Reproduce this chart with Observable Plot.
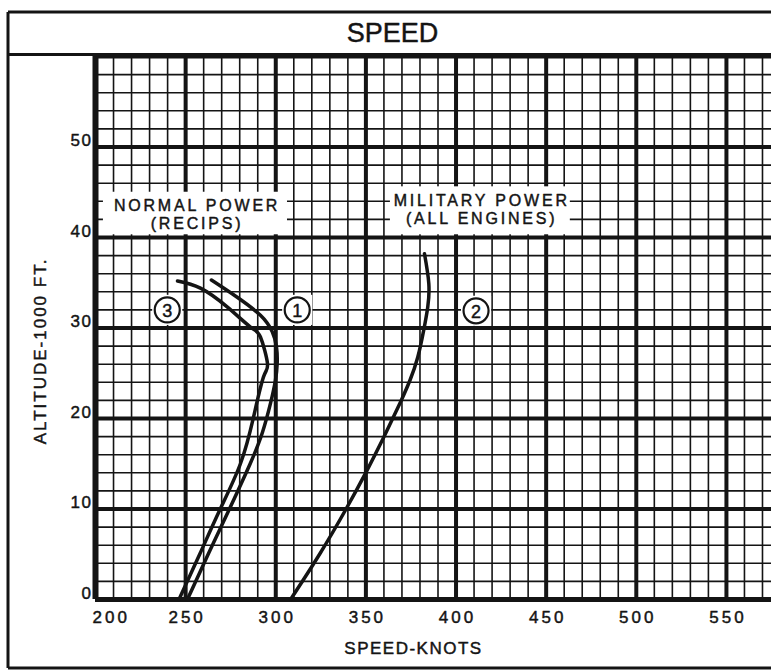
<!DOCTYPE html>
<html>
<head>
<meta charset="utf-8">
<script src="https://cdn.jsdelivr.net/npm/d3@7"></script>
<script src="https://cdn.jsdelivr.net/npm/@observablehq/plot@0.6"></script>
<style>
  html, body { margin: 0; padding: 0; background: #fff; }
  #chart svg { display: block; }
</style>
</head>
<body>
<div id="chart"></div>
<script>
// ---- data ----
const speedTicks = [200, 250, 300, 350, 400, 450, 500, 550];
const altitudeTicks = [0, 10, 20, 30, 40, 50];

// Curve 1 – normal power (recips)
const altitude1 = [0, 5, 10, 15, 18.4, 21.7, 24.2, 26.1, 27.9, 29.6, 31.4, 33.4, 35.3];
const speed1    = [251.0, 262.5, 274.3, 285.8, 292.5, 297.1, 299.8, 300.8, 300.4, 298.0, 291.5, 278.6, 264.3];

// Curve 3 – normal power (recips)
const altitude3 = [0, 5, 10, 15, 20.1, 24.6, 26.1, 29.0, 30.1, 32.3, 34.4, 35.2];
const speed3    = [246.3, 257.8, 269.2, 280.4, 287.6, 293.2, 295.4, 291.5, 286.0, 273.2, 258.2, 245.5];

// Curve 2 – military power (all engines)
const altitude2 = [0, 5, 10, 14.3, 17.2, 19.8, 22.0, 24.2, 26.8, 29.8, 32.3, 34.9, 38.2];
const speed2    = [308.2, 324.3, 339.0, 350.7, 358.1, 364.4, 369.6, 374.4, 378.8, 382.1, 384.3, 384.9, 382.5];

// curve number labels (speed, altitude)
const curveLabels = ["3", "1", "2"];
const curveLabelSpeed = [239.8, 311.9, 411.1];
const curveLabelAlt = [32.0, 32.0, 31.9];

// annotation boxes
const noteLines = [["NORMAL POWER", "(RECIPS)"], ["MILITARY POWER", "(ALL ENGINES)"]];
const noteSpeed = [255.5, 413.4];
const noteBox = [
  {x1: 204.4, x2: 306.5, y1: 40.3, y2: 45.0},
  {x1: 363.6, x2: 463.4, y1: 40.3, y2: 45.6}
];

const xTitle = "SPEED-KNOTS";
const yTitle = "ALTITUDE-1000 FT.";
const chartTitle = "SPEED";

// ---- build ----
const toPts = (xs, ys) => xs.map((x, i) => ({x, y: ys[i]}));
const font = "'Liberation Sans', Arial, sans-serif";
const ink = "#141414";

const minorX = d3.range(210, 576, 10).filter(v => v % 50 !== 0);
const majorX = d3.range(250, 576, 50);
const minorY = d3.range(2, 60, 2).filter(v => v % 10 !== 0);
const majorY = d3.range(10, 60, 10);

const labels = curveLabels.map((t, i) => ({t, x: curveLabelSpeed[i], y: curveLabelAlt[i]}));
const notes = noteLines.map((l, i) => ({
  line1: l[0], line2: l[1], x: noteSpeed[i], ...noteBox[i]
}));

const txt = {fill: ink, stroke: ink, strokeWidth: 0.45};

const chart = Plot.plot({
  width: 771,
  height: 671,
  marginLeft: 95,
  marginRight: 0,
  marginTop: 56,
  marginBottom: 72,
  style: {background: "#fff", fontFamily: font, color: ink},
  x: {domain: [200, 575], axis: null},
  y: {domain: [0, 60], axis: null},
  marks: [
    // grid
    Plot.ruleX(minorX, {stroke: ink, strokeWidth: 1.6}),
    Plot.ruleY(minorY, {stroke: ink, strokeWidth: 1.6}),
    Plot.ruleX(majorX, {stroke: ink, strokeWidth: 4}),
    Plot.ruleY(majorY, {stroke: ink, strokeWidth: 4}),
    Plot.ruleY([60], {stroke: ink, strokeWidth: 4}),
    Plot.ruleX([200], {stroke: ink, strokeWidth: 6}),
    Plot.ruleY([0], {stroke: ink, strokeWidth: 5}),

    // annotation boxes
    Plot.rect(notes, {x1: "x1", x2: "x2", y1: "y1", y2: "y2", fill: "#fff"}),
    Plot.text(notes, {x: "x", y: "y2", text: "line1", dy: 14, dx: 1.5, fontSize: 16, ...txt}),
    Plot.text(notes, {x: "x", y: "y2", text: "line2", dy: 32, dx: 1.5, fontSize: 16, ...txt}),

    // curves
    Plot.line(toPts(speed1, altitude1), {x: "x", y: "y", curve: "natural", stroke: ink, strokeWidth: 3.5}),
    Plot.line(toPts(speed3, altitude3), {x: "x", y: "y", curve: "natural", stroke: ink, strokeWidth: 3.5}),
    Plot.line(toPts(speed2, altitude2), {x: "x", y: "y", curve: "natural", stroke: ink, strokeWidth: 3.5}),

    // circled labels
    Plot.dot(labels, {x: "x", y: "y", symbol: "square", r: 17, fill: "#fff", stroke: null}),
    Plot.dot(labels, {x: "x", y: "y", r: 12.5, fill: "#fff", stroke: ink, strokeWidth: 2.2}),
    Plot.text(labels, {x: "x", y: "y", text: "t", fontSize: 18, dy: 1, ...txt}),

    // tick labels
    Plot.text(speedTicks.filter(d => d !== 200), {x: d => d, y: () => 0, text: d => String(d), dy: 18, dx: 1.5, fontSize: 17, ...txt}),
    Plot.text(speedTicks.filter(d => d === 200), {x: d => d, y: () => 0, text: d => String(d), dy: 18, dx: -3, textAnchor: "start", fontSize: 17, ...txt}),
    Plot.text(altitudeTicks, {x: () => 200, y: d => d, text: d => String(d), dx: -3, dy: -6, textAnchor: "end", fontSize: 17, ...txt}),

    // axis titles & chart title
    Plot.text([xTitle], {frameAnchor: "bottom", lineAnchor: "middle", dx: -20, dy: 49, fontSize: 17, ...txt}),
    Plot.text([yTitle], {frameAnchor: "left", textAnchor: "middle", lineAnchor: "middle", rotate: -90, dx: -55, dy: 23, fontSize: 17, ...txt}),
    Plot.text([chartTitle], {frameAnchor: "top", lineAnchor: "middle", dx: -41, dy: -23, fontSize: 27, ...txt})
  ]
});

// letter spacing of the hand-lettered texts
const spacing = new Map();
noteLines.flat().forEach(s => spacing.set(s, "2.8px"));
speedTicks.forEach(s => spacing.set(String(s), "3px"));
altitudeTicks.forEach(s => spacing.set(String(s), "1.5px"));
spacing.set(xTitle, "1.5px");
spacing.set(yTitle, "2px");
const svg = d3.select(chart);
svg.selectAll("text").each(function () {
  const s = spacing.get(this.textContent);
  if (s) this.style.letterSpacing = s;
});

// page frame (decorative border of the original sheet)
const g = svg.append("g").attr("fill", "none").attr("stroke", ink).attr("stroke-width", 3);
g.append("line").attr("x1", 8).attr("x2", 771).attr("y1", 12).attr("y2", 12);
g.append("line").attr("x1", 8).attr("x2", 8).attr("y1", 12).attr("y2", 668);
g.append("line").attr("x1", 8).attr("x2", 771).attr("y1", 668).attr("y2", 668);
g.append("line").attr("x1", 8).attr("x2", 771).attr("y1", 54.5).attr("y2", 54.5);

document.getElementById("chart").appendChild(chart);
</script>
</body>
</html>
